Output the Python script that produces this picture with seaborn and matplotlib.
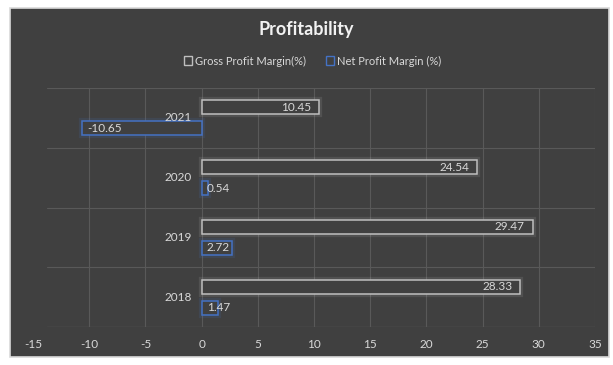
import pandas as pd
import matplotlib
matplotlib.use("Agg")
import matplotlib.pyplot as plt
import matplotlib.patches as mpatches
import matplotlib.patheffects as pe
import seaborn as sns

# data
years = ["2021", "2020", "2019", "2018"]
gross_margin = [10.45, 24.54, 29.47, 28.33]
net_margin = [-10.65, 0.54, 2.72, 1.47]
series = ["Gross Profit Margin(%)", "Net Profit Margin (%)"]

BG = "#404040"
GRID = "#595959"
TXT = "#d9d9d9"
edge_colors = {series[0]: "#bfbfbf", series[1]: "#4472c4"}

df = pd.DataFrame({
    "Year": years * 2,
    "Series": [series[0]] * 4 + [series[1]] * 4,
    "Value": gross_margin + net_margin,
})

sns.set_theme(style="dark")
plt.rcParams["font.family"] = ["Lato", "DejaVu Sans"]
plt.rcParams["axes.unicode_minus"] = False

W, H = 613, 365
fig = plt.figure(figsize=(W / 100, H / 100), dpi=100, facecolor="white")
# dark chart panel with light border
fig.patches.append(mpatches.Rectangle((10 / W, 1 - 357 / H), 599 / W, 349 / H,
                                      transform=fig.transFigure, facecolor=BG,
                                      edgecolor="#d9d9d9", linewidth=1.2, zorder=-10))

ax = fig.add_axes([33 / W, 1 - 327 / H, (595 - 33) / W, (327 - 88) / H])
ax.set_facecolor(BG)

sns.barplot(data=df, y="Year", x="Value", hue="Series", order=years,
            hue_order=series, orient="h", width=0.7, gap=0.33,
            palette=edge_colors, ax=ax, legend=False, zorder=3)

# outline-only bars with a soft glow
for i, p in enumerate(ax.patches):
    col = edge_colors[series[i // len(years)]]
    p.set_facecolor(BG)
    p.set_edgecolor(col)
    p.set_linewidth(1.1)
    p.set_path_effects([pe.Stroke(linewidth=4.5, foreground=col, alpha=0.14), pe.Normal()])

ax.set_xlim(-15, 35)
ax.set_ylim(3.5, -0.5)
ax.set_xticks(range(-15, 36, 5))
ax.set_yticks([])
ax.set_xlabel("")
ax.set_ylabel("")
for s in ax.spines.values():
    s.set_visible(False)

# grid
for x in range(-10, 36, 5):
    ax.axvline(x, color=GRID, lw=0.8, zorder=1)
for y in [-0.5, 0.5, 1.5, 2.5]:
    ax.axhline(y, xmin=0.025, color=GRID, lw=0.8, zorder=1)
ax.axhline(3.5, xmin=0.025, color=GRID, lw=1.0, zorder=1)

ax.tick_params(axis="x", colors=TXT, labelsize=8.5, length=0, pad=9)

# category labels sit next to the zero line
for i, yr in enumerate(years):
    ax.text(-0.9, i, yr, ha="right", va="center", color=TXT, fontsize=8.5)

# data labels
for i in range(len(years)):
    g = gross_margin[i]
    ax.text(g - 0.7, i - 0.175, f"{g:.2f}", ha="right", va="center", color=TXT,
            fontsize=8.5, zorder=5)
    n = net_margin[i]
    xpos = n + 0.5 if n < 0 else 0.45
    ax.text(xpos, i + 0.175, f"{n:.2f}", ha="left", va="center", color=TXT,
            fontsize=8.5, zorder=5)

fig.text(0.5, 1 - 30 / H, "Profitability", ha="center", va="center",
         color="#f2f2f2", fontsize=13, fontweight="bold")

handles = [mpatches.Patch(facecolor=BG, edgecolor=edge_colors[s], linewidth=1.0, label=s)
           for s in series]
leg = fig.legend(handles=handles, loc="center", bbox_to_anchor=(0.51, 1 - 61 / H),
                 ncol=2, frameon=False, fontsize=8, handlelength=0.7, handleheight=0.9,
                 handletextpad=0.3, columnspacing=1.8)
for t in leg.get_texts():
    t.set_color(TXT)

fig.savefig("out.png", dpi=100, facecolor="white")
